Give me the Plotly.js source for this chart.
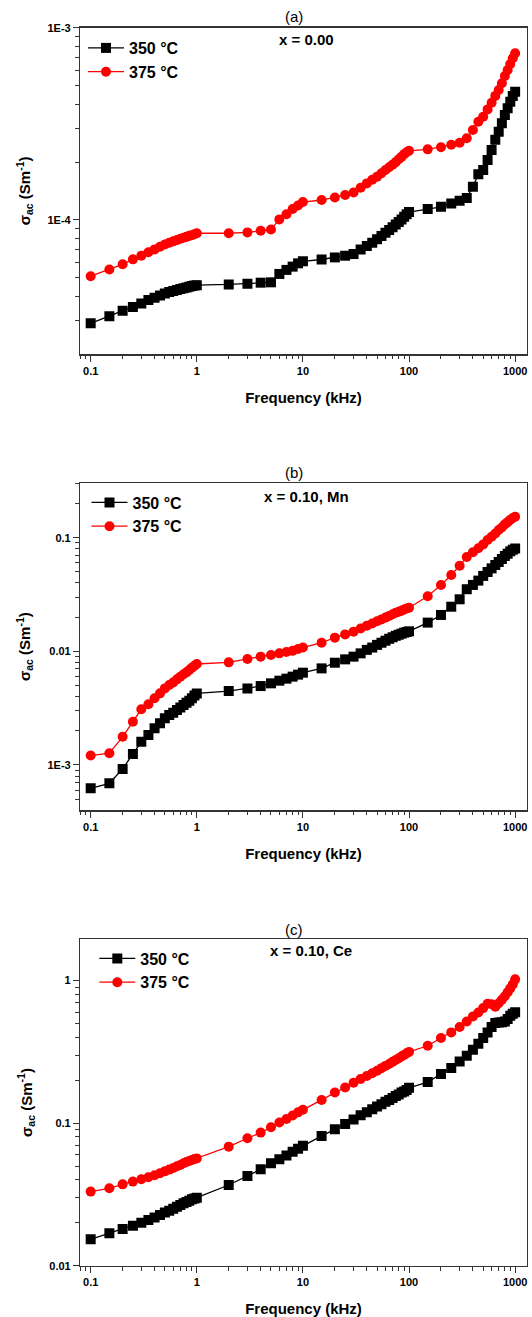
<!DOCTYPE html>
<html>
<head>
<meta charset="utf-8">
<script src="https://cdn.plot.ly/plotly-3.0.1.min.js"></script>
<style>html,body{margin:0;padding:0;background:#fff;}#chart{width:532px;height:1317px;}</style>
</head>
<body>
<div id="chart"></div>
<script>
// Frequency (kHz)
const freq = [0.1,0.15,0.2,0.25,0.3,0.35,0.4,0.45,0.5,0.55,0.6,0.65,0.7,0.75,0.8,0.85,0.9,0.95,1,
  2,3,4,5,6,7,8,9,10,
  15,20,25,30,35,40,45,50,55,60,65,70,75,80,85,90,95,100,
  150,200,250,300,350,400,450,500,550,600,650,700,750,800,850,900,950,1000];

// (a) x = 0.00
const a350 = [2.90e-5,3.16e-5,3.37e-5,3.53e-5,3.68e-5,3.83e-5,3.94e-5,4.05e-5,4.15e-5,4.22e-5,4.27e-5,4.32e-5,4.37e-5,4.41e-5,4.46e-5,4.49e-5,4.53e-5,4.56e-5,4.58e-5,
  4.62e-5,4.66e-5,4.72e-5,4.74e-5,5.24e-5,5.50e-5,5.72e-5,5.95e-5,6.10e-5,
  6.23e-5,6.39e-5,6.52e-5,6.65e-5,7.03e-5,7.32e-5,7.62e-5,7.93e-5,8.26e-5,8.59e-5,8.87e-5,9.16e-5,9.46e-5,9.77e-5,1.005e-4,1.038e-4,1.07e-4,1.10e-4,
  1.14e-4,1.17e-4,1.22e-4,1.26e-4,1.30e-4,1.49e-4,1.73e-4,1.82e-4,2.05e-4,2.31e-4,2.61e-4,2.88e-4,3.18e-4,3.52e-4,3.81e-4,4.12e-4,4.42e-4,4.65e-4];
const a375 = [5.10e-5,5.53e-5,5.88e-5,6.24e-5,6.52e-5,6.79e-5,7.03e-5,7.26e-5,7.46e-5,7.62e-5,7.74e-5,7.86e-5,7.98e-5,8.08e-5,8.17e-5,8.27e-5,8.34e-5,8.44e-5,8.53e-5,
  8.53e-5,8.62e-5,8.79e-5,8.93e-5,1.007e-4,1.07e-4,1.14e-4,1.19e-4,1.24e-4,
  1.27e-4,1.31e-4,1.35e-4,1.39e-4,1.47e-4,1.55e-4,1.62e-4,1.68e-4,1.75e-4,1.82e-4,1.88e-4,1.94e-4,2.00e-4,2.07e-4,2.13e-4,2.20e-4,2.25e-4,2.29e-4,
  2.33e-4,2.39e-4,2.46e-4,2.52e-4,2.66e-4,2.94e-4,3.24e-4,3.44e-4,3.76e-4,4.07e-4,4.42e-4,4.74e-4,5.14e-4,5.61e-4,6.03e-4,6.48e-4,6.93e-4,7.36e-4];

// (b) x = 0.10, Mn
const b350 = [6.24e-4,6.90e-4,9.23e-4,1.25e-3,1.60e-3,1.84e-3,2.10e-3,2.33e-3,2.58e-3,2.75e-3,2.88e-3,3.05e-3,3.21e-3,3.37e-3,3.53e-3,3.68e-3,3.86e-3,4.08e-3,4.26e-3,
  4.47e-3,4.72e-3,4.95e-3,5.23e-3,5.52e-3,5.75e-3,5.99e-3,6.24e-3,6.49e-3,
  7.08e-3,7.94e-3,8.50e-3,8.98e-3,9.60e-3,1.03e-2,1.08e-2,1.14e-2,1.19e-2,1.24e-2,1.29e-2,1.33e-2,1.37e-2,1.40e-2,1.43e-2,1.46e-2,1.48e-2,1.50e-2,
  1.79e-2,2.09e-2,2.47e-2,2.87e-2,3.52e-2,3.84e-2,4.19e-2,4.61e-2,4.99e-2,5.37e-2,5.75e-2,6.11e-2,6.49e-2,6.90e-2,7.23e-2,7.58e-2,7.84e-2,8.05e-2];
const b375 = [1.21e-3,1.27e-3,1.77e-3,2.40e-3,3.09e-3,3.42e-3,3.86e-3,4.27e-3,4.72e-3,5.05e-3,5.33e-3,5.67e-3,5.98e-3,6.28e-3,6.53e-3,6.85e-3,7.18e-3,7.48e-3,7.74e-3,
  8.00e-3,8.57e-3,8.98e-3,9.29e-3,9.60e-3,9.87e-3,1.01e-2,1.05e-2,1.08e-2,
  1.19e-2,1.32e-2,1.41e-2,1.49e-2,1.59e-2,1.68e-2,1.76e-2,1.84e-2,1.91e-2,1.98e-2,2.05e-2,2.12e-2,2.19e-2,2.23e-2,2.28e-2,2.34e-2,2.38e-2,2.42e-2,
  3.05e-2,3.84e-2,4.70e-2,5.67e-2,6.75e-2,7.45e-2,8.06e-2,8.73e-2,9.53e-2,0.102,0.109,0.117,0.123,0.131,0.137,0.144,0.149,0.153];

// (c) x = 0.10, Ce
const c350 = [0.0153,0.0169,0.0181,0.0191,0.0200,0.0209,0.0218,0.0227,0.0236,0.0243,0.0251,0.0259,0.0267,0.0274,0.0280,0.0286,0.0292,0.0296,0.0300,
  0.0368,0.0426,0.0474,0.0523,0.0557,0.0594,0.0631,0.0662,0.0695,
  0.0813,0.0905,0.0987,0.106,0.1135,0.119,0.125,0.131,0.1355,0.141,0.1455,0.150,0.155,0.159,0.164,0.167,0.171,0.177,
  0.194,0.221,0.244,0.271,0.297,0.327,0.361,0.395,0.433,0.472,0.504,0.508,0.510,0.517,0.537,0.567,0.585,0.600];
const c375 = [0.0331,0.0349,0.0372,0.0389,0.0404,0.0417,0.0431,0.0445,0.0459,0.0472,0.0485,0.0499,0.0509,0.0523,0.0534,0.0543,0.0552,0.0561,0.0566,
  0.0684,0.0783,0.0858,0.0935,0.101,0.107,0.113,0.119,0.124,
  0.1455,0.164,0.178,0.192,0.204,0.214,0.224,0.233,0.243,0.252,0.260,0.269,0.277,0.285,0.293,0.301,0.309,0.316,
  0.349,0.395,0.433,0.472,0.517,0.560,0.597,0.641,0.687,0.682,0.655,0.693,0.733,0.776,0.827,0.882,0.940,1.02];

const seriesNames = ['350 °C', '375 °C'];
const panelLabels = ['(a)', '(b)', '(c)'];
const panelNotes = ['x = 0.00', 'x = 0.10, Mn', 'x = 0.10, Ce'];
const xTickVals = [0.1, 1, 10, 100, 1000];
const xTickText = ['0.1', '1', '10', '100', '1000'];
const yTickVals = [[1e-4, 1e-3], [1e-3, 0.01, 0.1], [0.01, 0.1, 1]];
const yTickText = [['1E-4', '1E-3'], ['1E-3', '0.01', '0.1'], ['0.01', '0.1', '1']];
const yRanges = [[-4.697, -3], [-3.396, -0.5215], [-2, 0.2895]];
const xRange = [Math.log10(0.08), 3.108];

const W = 532, H = 1317;
const FONT = 'Liberation Sans, Arial, sans-serif';
const plotLeft = 80.4, plotRight = 526.6;
const panels = [
  {top: 27.7, bottom: 354, legX: 83, legY: 31, noteY: 39.3, noteX: 306, labY: 16},
  {top: 483.3, bottom: 810, legX: 86.5, legY: 485.5, noteY: 496, noteX: 306, labY: 472.3},
  {top: 939.3, bottom: 1265.7, legX: 94.3, legY: 941.5, noteY: 950, noteX: 310.5, labY: 929}
];
const data = [[a350, a375], [b350, b375], [c350, c375]];
const colors = ['#000000', '#ff0000'];
const symbols = ['square', 'circle'];

const traces = [];
const layout = {
  width: W, height: H,
  margin: {l: 0, r: 0, t: 0, b: 0},
  paper_bgcolor: '#fff', plot_bgcolor: '#fff',
  font: {family: FONT, color: '#000'},
  showlegend: true,
  annotations: []
};

const tickStyle = {tickwidth: 1, tickcolor: '#333', showgrid: false, zeroline: false};

panels.forEach((p, i) => {
  const sfx = i === 0 ? '' : String(i + 1);
  const mirrorSfx = String(i + 4);
  const legName = 'legend' + sfx;
  data[i].forEach((ys, j) => {
    traces.push({
      x: freq, y: ys, type: 'scatter', mode: 'lines+markers',
      name: seriesNames[j],
      xaxis: 'x' + sfx, yaxis: 'y' + sfx,
      legend: legName,
      line: {color: colors[j], width: 1.3},
      marker: {symbol: symbols[j], size: 10, color: colors[j]}
    });
  });
  const axCommon = Object.assign({
    type: 'log', showline: true, linecolor: '#333', linewidth: 1.5,
    mirror: true, ticks: 'outside', ticklen: 6,
    minor: {dtick: 'D1', ticks: 'outside', ticklen: 3.5, tickwidth: 1, tickcolor: '#333', showgrid: false},
    tickfont: {family: FONT, size: 11, weight: 'bold', color: '#000'}
  }, tickStyle);
  layout['xaxis' + sfx] = Object.assign({}, axCommon, {
    domain: [plotLeft / W, plotRight / W],
    anchor: 'y' + sfx,
    range: xRange,
    tickmode: 'array', tickvals: xTickVals, ticktext: xTickText,
    title: {text: 'Frequency (kHz)', font: {family: FONT, size: 15, weight: 'bold', color: '#000'}, standoff: 17}
  });
  layout['yaxis' + sfx] = Object.assign({}, axCommon, {
    domain: [1 - p.bottom / H, 1 - p.top / H],
    anchor: 'x' + sfx,
    range: yRanges[i],
    tickmode: 'array', tickvals: yTickVals[i], ticktext: yTickText[i],
    title: {text: 'σ<sub>ac</sub> (Sm<sup>-1</sup>)', font: {family: FONT, size: 15, weight: 'bold', color: '#000'}, standoff: 13}
  });
  // top and right frame ticks (pointing inward)
  const mirrorCommon = Object.assign({
    type: 'log', showline: false, showticklabels: false,
    ticks: 'inside', ticklen: 6,
    minor: {dtick: 'D1', ticks: 'inside', ticklen: 3.5, tickwidth: 1, tickcolor: '#333', showgrid: false}
  }, tickStyle);
  layout['xaxis' + mirrorSfx] = Object.assign({}, mirrorCommon, {
    overlaying: 'x' + sfx, side: 'top', anchor: 'y' + sfx,
    range: xRange, tickmode: 'array', tickvals: xTickVals
  });
  layout['yaxis' + mirrorSfx] = Object.assign({}, mirrorCommon, {
    overlaying: 'y' + sfx, side: 'right', anchor: 'x' + sfx,
    range: yRanges[i], tickmode: 'array', tickvals: yTickVals[i]
  });
  layout[legName] = {
    x: p.legX / W, y: 1 - p.legY / H, xanchor: 'left', yanchor: 'top',
    xref: 'paper', yref: 'paper',
    bgcolor: 'rgba(0,0,0,0)', borderwidth: 0,
    font: {family: FONT, size: 16, weight: 'bold', color: '#000'},
    itemwidth: 36, tracegroupgap: 0
  };
  layout.annotations.push({
    text: panelLabels[i], xref: 'paper', yref: 'paper',
    x: 294 / W, y: 1 - p.labY / H, xanchor: 'center', yanchor: 'middle',
    showarrow: false, font: {family: FONT, size: 15, color: '#000'}
  });
  layout.annotations.push({
    text: panelNotes[i], xref: 'paper', yref: 'paper',
    x: p.noteX / W, y: 1 - p.noteY / H, xanchor: 'center', yanchor: 'middle',
    showarrow: false, font: {family: FONT, size: 15, weight: 'bold', color: '#000'}
  });
});

Plotly.newPlot('chart', traces, layout, {displayModeBar: false, staticPlot: true});
</script>
</body>
</html>
